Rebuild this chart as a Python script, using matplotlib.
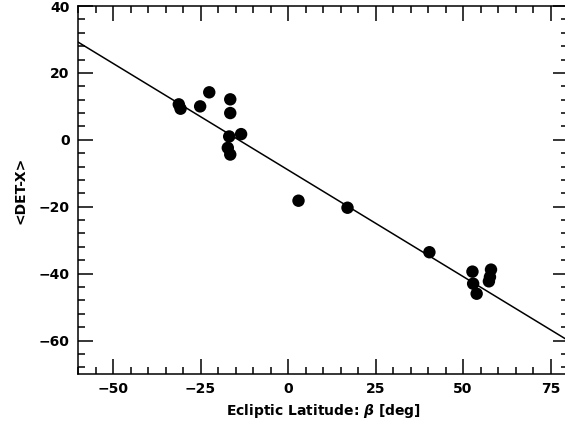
import numpy as np
import matplotlib
matplotlib.use("Agg")
import matplotlib.pyplot as plt
from matplotlib.ticker import MultipleLocator

# Datos
beta = [-31.2, -30.7, -25.1, -22.5, -16.5, -16.5, -16.8, -13.4, -17.2, -16.5,
        3.0, 17.0, 40.4, 52.7, 52.9, 53.9, 58.0, 57.7, 57.4]
det_x = [10.6, 9.3, 10.0, 14.2, 12.1, 8.0, 1.0, 1.7, -2.4, -4.4,
         -18.2, -20.3, -33.6, -39.4, -43.0, -46.0, -38.8, -41.0, -42.3]

# Ajuste lineal (pendiente, ordenada)
fit_slope = -0.637
fit_intercept = -9.0

xlim = (-60, 80)
ylim = (-70, 40)

plt.rcParams['font.family'] = ['DejaVu Sans']
plt.rcParams['font.weight'] = 'bold'

fig = plt.figure(figsize=(5.65, 4.22), dpi=100)
ax = fig.add_axes([78/565, 1 - 374/422, 490/565, 368/422])

xx = np.array(xlim, dtype=float)
ax.plot(xx, fit_slope*xx + fit_intercept, color="black", lw=1.1, zorder=2)
ax.scatter(beta, det_x, s=80, color="black", zorder=3, edgecolors="none")

ax.set_xlim(*xlim)
ax.set_ylim(*ylim)
ax.xaxis.set_major_locator(MultipleLocator(25))
ax.xaxis.set_minor_locator(MultipleLocator(5))
ax.yaxis.set_major_locator(MultipleLocator(20))
ax.yaxis.set_minor_locator(MultipleLocator(4))
ax.tick_params(which="both", direction="in", top=True, right=True,
               width=1.1, labelsize=10, pad=6)
ax.tick_params(which="major", length=11)
ax.tick_params(which="minor", length=5)
for sp in ax.spines.values():
    sp.set_linewidth(1.1)

ax.set_xlabel(r"Ecliptic Latitude: $\beta$ [deg]", fontsize=10, fontweight="bold", labelpad=4)
ax.set_ylabel("<DET-X>", fontsize=10, fontweight="bold", labelpad=8)

fig.savefig("out.png", dpi=100)
